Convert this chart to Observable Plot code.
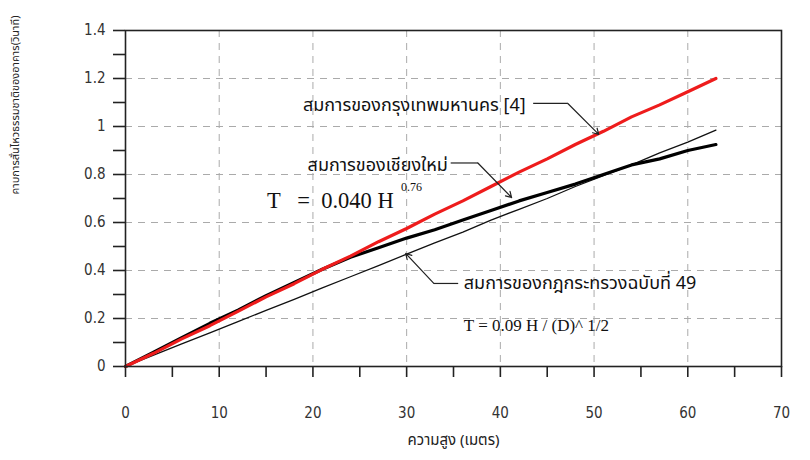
<!DOCTYPE html>
<html>
<head>
<meta charset="utf-8">
<script src="https://cdn.jsdelivr.net/npm/d3@7"></script>
<script src="https://cdn.jsdelivr.net/npm/@observablehq/plot@0.6"></script>
<style>
  body { margin: 0; background: #fff; }
  svg { font-family: "DejaVu Sans Condensed", "DejaVu Sans", sans-serif; }
</style>
</head>
<body>
<div id="chart"></div>
<script>
// Building height H (m)
const heights = [0, 3, 6, 9, 12, 15, 18, 21, 24, 27, 30, 33, 36, 39, 42, 45, 48, 51, 54, 57, 60, 63];
// Bangkok equation [4] (red)
const bangkok = [0, 0.055, 0.115, 0.17, 0.23, 0.29, 0.345, 0.405, 0.46, 0.52, 0.575, 0.635, 0.69, 0.75, 0.81, 0.865, 0.925, 0.98, 1.04, 1.09, 1.145, 1.2];
// Chiang Mai equation T = 0.040 H^0.76 (thick black)
const chiangMai = [0, 0.06, 0.12, 0.18, 0.235, 0.295, 0.35, 0.405, 0.455, 0.495, 0.535, 0.57, 0.61, 0.65, 0.69, 0.725, 0.76, 0.80, 0.84, 0.865, 0.90, 0.925];
// Ministerial regulation No. 49 (thin black)
const regulation49 = [0, 0.047, 0.094, 0.14, 0.187, 0.234, 0.28, 0.328, 0.374, 0.42, 0.468, 0.515, 0.56, 0.61, 0.655, 0.70, 0.75, 0.795, 0.84, 0.89, 0.935, 0.985];

const xTicks = [0, 5, 10, 15, 20, 25, 30, 35, 40, 45, 50, 55, 60, 65, 70];
const yTicks = [0, 0.1, 0.2, 0.3, 0.4, 0.5, 0.6, 0.7, 0.8, 0.9, 1.0, 1.1, 1.2, 1.3, 1.4];
const xGrid = [10, 20, 30, 40, 50, 60];
const yGrid = [0.2, 0.4, 0.6, 0.8, 1.0, 1.2];

const xTitle = "ความสูง (เมตร)";
const yTitle = "คาบการสั่นไหวธรรมชาติของอาคาร(วินาที)";

// Annotation labels (data units)
const endLabels = [
  {text: "สมการของกรุงเทพมหานคร [4]", x: 42.7, y: 1.088},
  {text: "สมการของเชียงใหม่", x: 34.4, y: 0.838}
];
const startLabels = [
  {text: "สมการของกฎกระทรวงฉบับที่ 49", x: 36.1, y: 0.346}
];
const leaders = [
  {x1: 43.5, y1: 1.096, x2: 47.2, y2: 1.096},
  {x1: 34.7, y1: 0.848, x2: 37.6, y2: 0.848},
  {x1: 35.5, y1: 0.346, x2: 32.9, y2: 0.346}
];
const arrows = [
  {x1: 47.2, y1: 1.096, x2: 50.5, y2: 0.967},
  {x1: 37.6, y1: 0.848, x2: 41.2, y2: 0.704},
  {x1: 32.9, y1: 0.346, x2: 29.9, y2: 0.471}
];
const eq1 = {text: "T   =  0.040 H", x: 15.1, y: 0.692, sup: "0.76", sx: 29.4, sy: 0.746};
const eq2 = {text: "T = 0.09 H / (D)^ 1/2", x: 36.1, y: 0.171};

const rows = heights.map((h, i) => ({h, bkk: bangkok[i], cm: chiangMai[i], r49: regulation49[i]}));

const thaiFont = "'Noto Sans Thai', 'Noto Sans', Tahoma, sans-serif";
const serif = "'Liberation Serif', 'DejaVu Serif', serif";

const chart = Plot.plot({
  width: 810,
  height: 460,
  marginLeft: 125,
  marginRight: 29,
  marginTop: 30,
  marginBottom: 94,
  style: {background: "#fff", color: "#222"},
  x: {domain: [0, 70]},
  y: {domain: [0, 1.4]},
  marks: [
    Plot.ruleX(xGrid, {stroke: "#aaa", strokeDasharray: "7,6", strokeWidth: 1}),
    Plot.ruleY(yGrid, {stroke: "#aaa", strokeDasharray: "7,6", strokeWidth: 1}),
    Plot.line(rows, {x: "h", y: "r49", stroke: "#111", strokeWidth: 1.3}),
    Plot.line(rows, {x: "h", y: "cm", stroke: "#000", strokeWidth: 3.2}),
    Plot.line(rows, {x: "h", y: "bkk", stroke: "#ee1c1c", strokeWidth: 3.2}),
    Plot.frame({stroke: "#222", strokeWidth: 1.6}),
    Plot.axisX({ticks: xTicks, tickSize: 11, tickPadding: 30, tickFormat: d => d % 10 === 0 ? String(d) : "",
      fontSize: 15, label: null, stroke: "#222", strokeWidth: 1.6, fill: "#333"}),
    Plot.axisY({ticks: yTicks, tickSize: 12, tickPadding: 8,
      tickFormat: d => (Math.round(d * 10) % 2 === 0) ? d3.format("~g")(+d.toFixed(1)) : "",
      fontSize: 15, label: null, stroke: "#222", strokeWidth: 1.6, fill: "#333"}),
    Plot.text([xTitle], {frameAnchor: "bottom", dy: 74, text: d => d, fontSize: 15, fontFamily: thaiFont, fill: "#222", lineAnchor: "middle"}),
    Plot.text([yTitle], {frameAnchor: "left", dx: -110, dy: -4, rotate: -90, text: d => d, fontSize: 11, fontFamily: thaiFont, fill: "#222", lineAnchor: "middle"}),
    Plot.link(leaders, {x1: "x1", y1: "y1", x2: "x2", y2: "y2", stroke: "#222", strokeWidth: 1.2}),
    Plot.arrow(arrows, {x1: "x1", y1: "y1", x2: "x2", y2: "y2", stroke: "#222", strokeWidth: 1.2, headLength: 8, insetEnd: 0}),
    Plot.text(endLabels, {x: "x", y: "y", text: "text", textAnchor: "end", fontSize: 18, fontFamily: thaiFont, fill: "#111", lineAnchor: "middle"}),
    Plot.text(startLabels, {x: "x", y: "y", text: "text", textAnchor: "start", fontSize: 18, fontFamily: thaiFont, fill: "#111", lineAnchor: "middle"}),
    Plot.text([eq1], {x: "x", y: "y", text: "text", textAnchor: "start", fontSize: 22.5, fontFamily: serif, fill: "#111", lineAnchor: "middle"}),
    Plot.text([eq1], {x: "sx", y: "sy", text: "sup", textAnchor: "start", fontSize: 12, fontFamily: serif, fill: "#111", lineAnchor: "middle"}),
    Plot.text([eq2], {x: "x", y: "y", text: "text", textAnchor: "start", fontSize: 17, fontFamily: serif, fill: "#111", lineAnchor: "middle"})
  ]
});
document.getElementById("chart").appendChild(chart);
</script>
</body>
</html>
